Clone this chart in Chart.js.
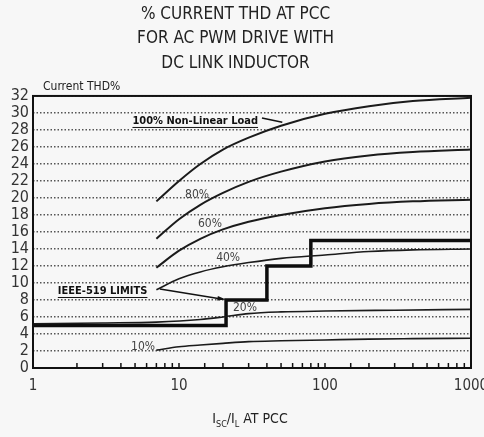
<!DOCTYPE html>
<html>
<head>
<meta charset="utf-8">
<script src="https://cdn.jsdelivr.net/npm/chart.js@4.4.1/dist/chart.umd.min.js"></script>
<style>
  html, body { margin: 0; padding: 0; background: #f7f7f7; }
  #wrap { width: 484px; height: 437px; }
</style>
</head>
<body>
<div id="wrap"><canvas id="thd"></canvas></div>
<script>
// Isc/IL ratio points the load curves are read at
const ratio = [7, 10, 14, 20, 30, 50, 100, 200, 400, 1000];
const thd100 = [19.6, 22.0, 24.0, 25.7, 27.1, 28.5, 29.9, 30.8, 31.4, 31.8];
const thd80 = [15.2, 17.5, 19.2, 20.6, 21.9, 23.1, 24.3, 25.0, 25.4, 25.7];
const thd60 = [11.8, 13.8, 15.2, 16.3, 17.2, 18.0, 18.8, 19.3, 19.6, 19.8];
const thd40 = [9.2, 10.5, 11.3, 11.9, 12.4, 12.9, 13.3, 13.7, 13.9, 14.0];
const thd10 = [2.1, 2.5, 2.7, 2.9, 3.1, 3.2, 3.3, 3.4, 3.45, 3.5];

// the 20% curve runs the whole width
const ratio20 = [1, 3, 7, 14, 20, 30, 50, 100, 300, 1000];
const thd20 = [5.2, 5.3, 5.4, 5.7, 6.0, 6.4, 6.6, 6.7, 6.8, 6.9];

// IEEE-519 current distortion limits (step line)
const limitRatio = [1, 21, 40, 80, 1000];
const limitThd = [5, 8, 12, 15, 15];

const xLabels = [1, 10, 100, 1000];
const titleLines = ['% CURRENT THD AT PCC', 'FOR AC PWM DRIVE WITH', 'DC LINK INDUCTOR'];

const FONT = "'Liberation Sans Narrow', 'DejaVu Sans Condensed', 'Arial Narrow', sans-serif";

function pts(xs, ys) {
    return xs.map(function (x, i) { return { x: x, y: ys[i] }; });
}

function curve(xs, ys, width) {
    return {
        data: pts(xs, ys),
        borderColor: '#1b1b1b',
        borderWidth: width,
        pointRadius: 0,
        cubicInterpolationMode: 'monotone',
        fill: false
    };
}

// text notes placed in data coordinates
const notes = [
    { text: '100% Non-Linear Load', x: 4.8, y: 29.0, bold: true, underline: true, align: 'left' },
    { text: 'IEEE-519 LIMITS', x: 1.48, y: 9.0, bold: true, underline: true, align: 'left' },
    { text: '80%', x: 13.3, y: 20.4 },
    { text: '60%', x: 16.3, y: 16.9 },
    { text: '40%', x: 21.7, y: 13.0 },
    { text: '20%', x: 28.3, y: 7.1 },
    { text: '10%', x: 5.67, y: 2.5 }
];
const arrows = [
    { from: [37, 29.4], to: [51, 28.9], head: false },
    { from: [7.4, 9.3], to: [20, 8.1], head: true }
];

const decor = {
    id: 'decor',
    beforeDraw: function (chart) {
        const ctx = chart.ctx;
        ctx.save();
        ctx.fillStyle = '#f7f7f7';
        ctx.fillRect(0, 0, chart.width, chart.height);
        ctx.restore();
    },
    afterDraw: function (chart) {
        const ctx = chart.ctx;
        const a = chart.chartArea;
        const xs = chart.scales.x;
        const ys = chart.scales.y;
        ctx.save();

        // plot frame
        ctx.strokeStyle = '#111';
        ctx.lineWidth = 2;
        ctx.strokeRect(a.left, a.top, a.right - a.left, a.bottom - a.top);

        // log ticks pointing into the plot
        ctx.lineWidth = 1.5;
        xs.ticks.forEach(function (t) {
            const px = xs.getPixelForValue(t.value);
            ctx.beginPath();
            ctx.moveTo(px, a.bottom);
            ctx.lineTo(px, a.bottom - 5);
            ctx.stroke();
        });

        // y axis caption
        ctx.fillStyle = '#222';
        ctx.font = '12px ' + FONT;
        ctx.textAlign = 'left';
        ctx.textBaseline = 'alphabetic';
        ctx.fillText('Current THD%', a.left + 10, a.top - 6);

        // x axis caption with subscripts
        const parts = [['I', 0], ['SC', 1], ['/I', 0], ['L', 1], [' AT PCC', 0]];
        let total = 0;
        parts.forEach(function (p) {
            ctx.font = (p[1] ? '9px ' : '14px ') + FONT;
            total += ctx.measureText(p[0]).width;
        });
        let cx = 250 - total / 2;
        const base = a.bottom + 55;
        parts.forEach(function (p) {
            ctx.font = (p[1] ? '9px ' : '14px ') + FONT;
            ctx.fillText(p[0], cx, p[1] ? base + 4 : base);
            cx += ctx.measureText(p[0]).width;
        });

        // notes
        notes.forEach(function (n) {
            const px = xs.getPixelForValue(n.x);
            const py = ys.getPixelForValue(n.y);
            ctx.font = (n.bold ? 'bold 11px ' : '12px ') + FONT;
            ctx.fillStyle = n.bold ? '#111' : '#444';
            ctx.textAlign = n.align || 'center';
            ctx.textBaseline = 'middle';
            ctx.fillText(n.text, px, py);
            if (n.underline) {
                const w = ctx.measureText(n.text).width;
                ctx.strokeStyle = '#111';
                ctx.lineWidth = 1;
                ctx.beginPath();
                ctx.moveTo(px, py + 6);
                ctx.lineTo(px + w, py + 6);
                ctx.stroke();
            }
        });

        // pointer arrows
        ctx.strokeStyle = '#111';
        ctx.fillStyle = '#111';
        ctx.lineWidth = 1.5;
        arrows.forEach(function (r) {
            const x1 = xs.getPixelForValue(r.from[0]), y1 = ys.getPixelForValue(r.from[1]);
            const x2 = xs.getPixelForValue(r.to[0]), y2 = ys.getPixelForValue(r.to[1]);
            ctx.beginPath();
            ctx.moveTo(x1, y1);
            ctx.lineTo(x2, y2);
            ctx.stroke();
            if (r.head) {
                const ang = Math.atan2(y2 - y1, x2 - x1);
                ctx.beginPath();
                ctx.moveTo(x2 + 3 * Math.cos(ang), y2 + 3 * Math.sin(ang));
                ctx.lineTo(x2 - 6 * Math.cos(ang - 0.4), y2 - 6 * Math.sin(ang - 0.4));
                ctx.lineTo(x2 - 6 * Math.cos(ang + 0.4), y2 - 6 * Math.sin(ang + 0.4));
                ctx.closePath();
                ctx.fill();
            }
        });
        ctx.restore();
    }
};

const limitSet = {
    data: pts(limitRatio, limitThd),
    borderColor: '#0d0d0d',
    borderWidth: 3.5,
    pointRadius: 0,
    stepped: 'before',
    fill: false
};

new Chart(document.getElementById('thd'), {
    type: 'line',
    data: {
        datasets: [
            curve(ratio, thd100, 2),
            curve(ratio, thd80, 2),
            curve(ratio, thd60, 2),
            curve(ratio, thd40, 1.6),
            curve(ratio20, thd20, 1.6),
            curve(ratio, thd10, 1.6),
            limitSet
        ]
    },
    options: {
        responsive: true,
        maintainAspectRatio: false,
        animation: false,
        layout: { padding: { left: 0, right: 13, top: 0, bottom: 0 } },
        plugins: {
            legend: { display: false },
            tooltip: { enabled: false },
            title: {
                display: true,
                text: titleLines,
                color: '#222',
                font: { family: FONT, size: 17, weight: 'normal', lineHeight: 1.45 },
                padding: { top: 2, bottom: 20 }
            }
        },
        scales: {
            x: {
                type: 'logarithmic',
                min: 1,
                max: 1000,
                grid: { display: false },
                border: { display: false },
                ticks: {
                    autoSkip: false,
                    maxRotation: 0,
                    color: '#333',
                    padding: 1,
                    font: { family: FONT, size: 15 },
                    callback: function (v) { return xLabels.indexOf(v) >= 0 ? String(v) : ''; }
                },
                afterFit: function (s) {
                    s.height = 69;
                    s.paddingLeft = 0;
                    s.paddingRight = 0;
                }
            },
            y: {
                min: 0,
                max: 32,
                border: { display: false, dash: [1.5, 2] },
                grid: {
                    color: '#555',
                    lineWidth: 1.5,
                    drawTicks: false
                },
                ticks: {
                    stepSize: 2,
                    autoSkip: false,
                    color: '#333',
                    padding: 4,
                    font: { family: FONT, size: 16 }
                },
                afterFit: function (s) {
                    s.width = 33;
                    s.paddingTop = 0;
                    s.paddingBottom = 0;
                }
            }
        }
    },
    plugins: [decor]
});
</script>
</body>
</html>
